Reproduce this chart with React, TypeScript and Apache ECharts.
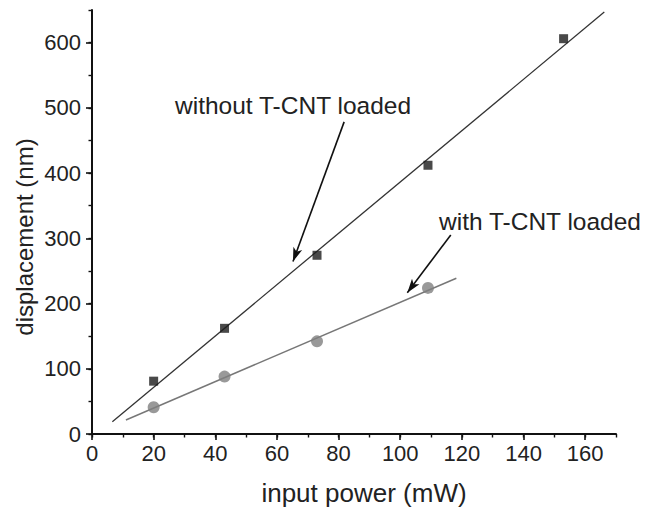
import React, { useEffect, useRef } from "react";
import * as echarts from "echarts";

// Measured data
const powerBlack = [20, 43, 73, 109, 153];
const dispBlack = [81, 162, 274, 412, 606];
const powerGray = [20, 43, 73, 109];
const dispGray = [41, 88, 142, 224];

// Linear fit lines (end points)
const fitBlackX = [6.6, 166.2];
const fitBlackY = [18.9, 646.8];
const fitGrayX = [11.0, 118.2];
const fitGrayY = [21.5, 238.8];

// Tick labels
const xTicks = [0, 20, 40, 60, 80, 100, 120, 140, 160];
const yTicks = [0, 100, 200, 300, 400, 500, 600];

// Annotation arrows (data coords: start -> tip)
const arrowWithout = [[81.8, 478.5], [65.2, 264.3]];
const arrowWith = [[116.4, 305.2], [102.3, 216.7]];

const FONT = "Liberation Sans, Arial, sans-serif";

export default function App() {
  const ref = useRef<HTMLDivElement>(null);
  useEffect(() => {
    if (!ref.current) return;
    const chart = echarts.init(ref.current, undefined, { renderer: "svg" });
    const zip = (a: number[], b: number[]) => a.map((v, i) => [v, b[i]]);
    const arrowStyle = { color: "#111", width: 1.6, type: "solid" as const };
    chart.setOption({
      animation: false,
      backgroundColor: "#fff",
      grid: { left: 92, right: 30, top: 10, bottom: 76, containLabel: false },
      xAxis: [
        {
          type: "value",
          position: "bottom",
          min: 0,
          max: 170,
          interval: 20,
          axisLine: { show: true, onZero: false, lineStyle: { color: "#111", width: 2 } },
          axisTick: { show: true, inside: false, length: 6, customValues: xTicks, lineStyle: { color: "#111", width: 1.6 } },
          axisLabel: { customValues: xTicks, fontSize: 22, color: "#222", fontFamily: FONT, margin: 8 },
          splitLine: { show: false },
        },
        {
          type: "value",
          position: "bottom",
          min: 0,
          max: 170,
          interval: 10,
          axisLine: { show: false, onZero: false },
          axisTick: { show: true, inside: false, length: 3.5, lineStyle: { color: "#111", width: 1.4 } },
          axisLabel: { show: false },
          splitLine: { show: false },
        },
      ],
      yAxis: [
        {
          type: "value",
          position: "left",
          min: 0,
          max: 650,
          interval: 100,
          axisLine: { show: true, onZero: false, lineStyle: { color: "#111", width: 2 } },
          axisTick: { show: true, inside: false, length: 6, customValues: yTicks, lineStyle: { color: "#111", width: 1.6 } },
          axisLabel: { customValues: yTicks, fontSize: 22, color: "#222", fontFamily: FONT, margin: 11 },
          splitLine: { show: false },
        },
        {
          type: "value",
          position: "left",
          min: 0,
          max: 650,
          interval: 50,
          axisLine: { show: false, onZero: false },
          axisTick: { show: true, inside: false, length: 3.5, lineStyle: { color: "#111", width: 1.4 } },
          axisLabel: { show: false },
          splitLine: { show: false },
        },
      ],
      graphic: [
        {
          type: "text",
          x: 364,
          y: 493,
          style: { text: "input power (mW)", font: `26px ${FONT}`, fill: "#222", align: "center", verticalAlign: "middle" },
        },
        {
          type: "text",
          x: 24,
          y: 237,
          rotation: Math.PI / 2,
          style: { text: "displacement (nm)", font: `24px ${FONT}`, fill: "#222", align: "center", verticalAlign: "middle" },
        },
        {
          type: "text",
          x: 175,
          y: 105,
          style: { text: "without T-CNT loaded", font: `24.5px ${FONT}`, fill: "#222", align: "left", verticalAlign: "middle" },
        },
        {
          type: "text",
          x: 439,
          y: 221,
          style: { text: "with T-CNT loaded", font: `24.5px ${FONT}`, fill: "#222", align: "left", verticalAlign: "middle" },
        },
      ],
      series: [
        {
          type: "line",
          xAxisIndex: 0,
          yAxisIndex: 0,
          data: zip(fitBlackX, fitBlackY),
          showSymbol: false,
          symbol: "none",
          lineStyle: { color: "#333", width: 1.3 },
          silent: true,
          markLine: {
            silent: true,
            symbol: ["none", "arrow"],
            symbolSize: [7, 14],
            label: { show: false },
            lineStyle: arrowStyle,
            emphasis: { disabled: true },
            data: [
              [
                { coord: arrowWithout[0], lineStyle: arrowStyle },
                { coord: arrowWithout[1] },
              ],
              [
                { coord: arrowWith[0], lineStyle: arrowStyle },
                { coord: arrowWith[1] },
              ],
            ],
          },
        },
        {
          type: "line",
          xAxisIndex: 0,
          yAxisIndex: 0,
          data: zip(fitGrayX, fitGrayY),
          showSymbol: false,
          symbol: "none",
          lineStyle: { color: "#777", width: 1.5 },
          silent: true,
        },
        {
          type: "scatter",
          xAxisIndex: 0,
          yAxisIndex: 0,
          data: zip(powerBlack, dispBlack),
          symbol: "rect",
          symbolSize: 9,
          itemStyle: { color: "#1c1c1c" },
          z: 5,
        },
        {
          type: "scatter",
          xAxisIndex: 0,
          yAxisIndex: 0,
          data: zip(powerGray, dispGray),
          symbol: "circle",
          symbolSize: 12,
          itemStyle: { color: "#808080" },
          z: 5,
        },
      ],
    });
    return () => chart.dispose();
  }, []);
  return (
    <div
      ref={ref}
      style={{ position: "fixed", left: 0, top: 0, width: 646, height: 510, background: "#fff" }}
    />
  );
}
